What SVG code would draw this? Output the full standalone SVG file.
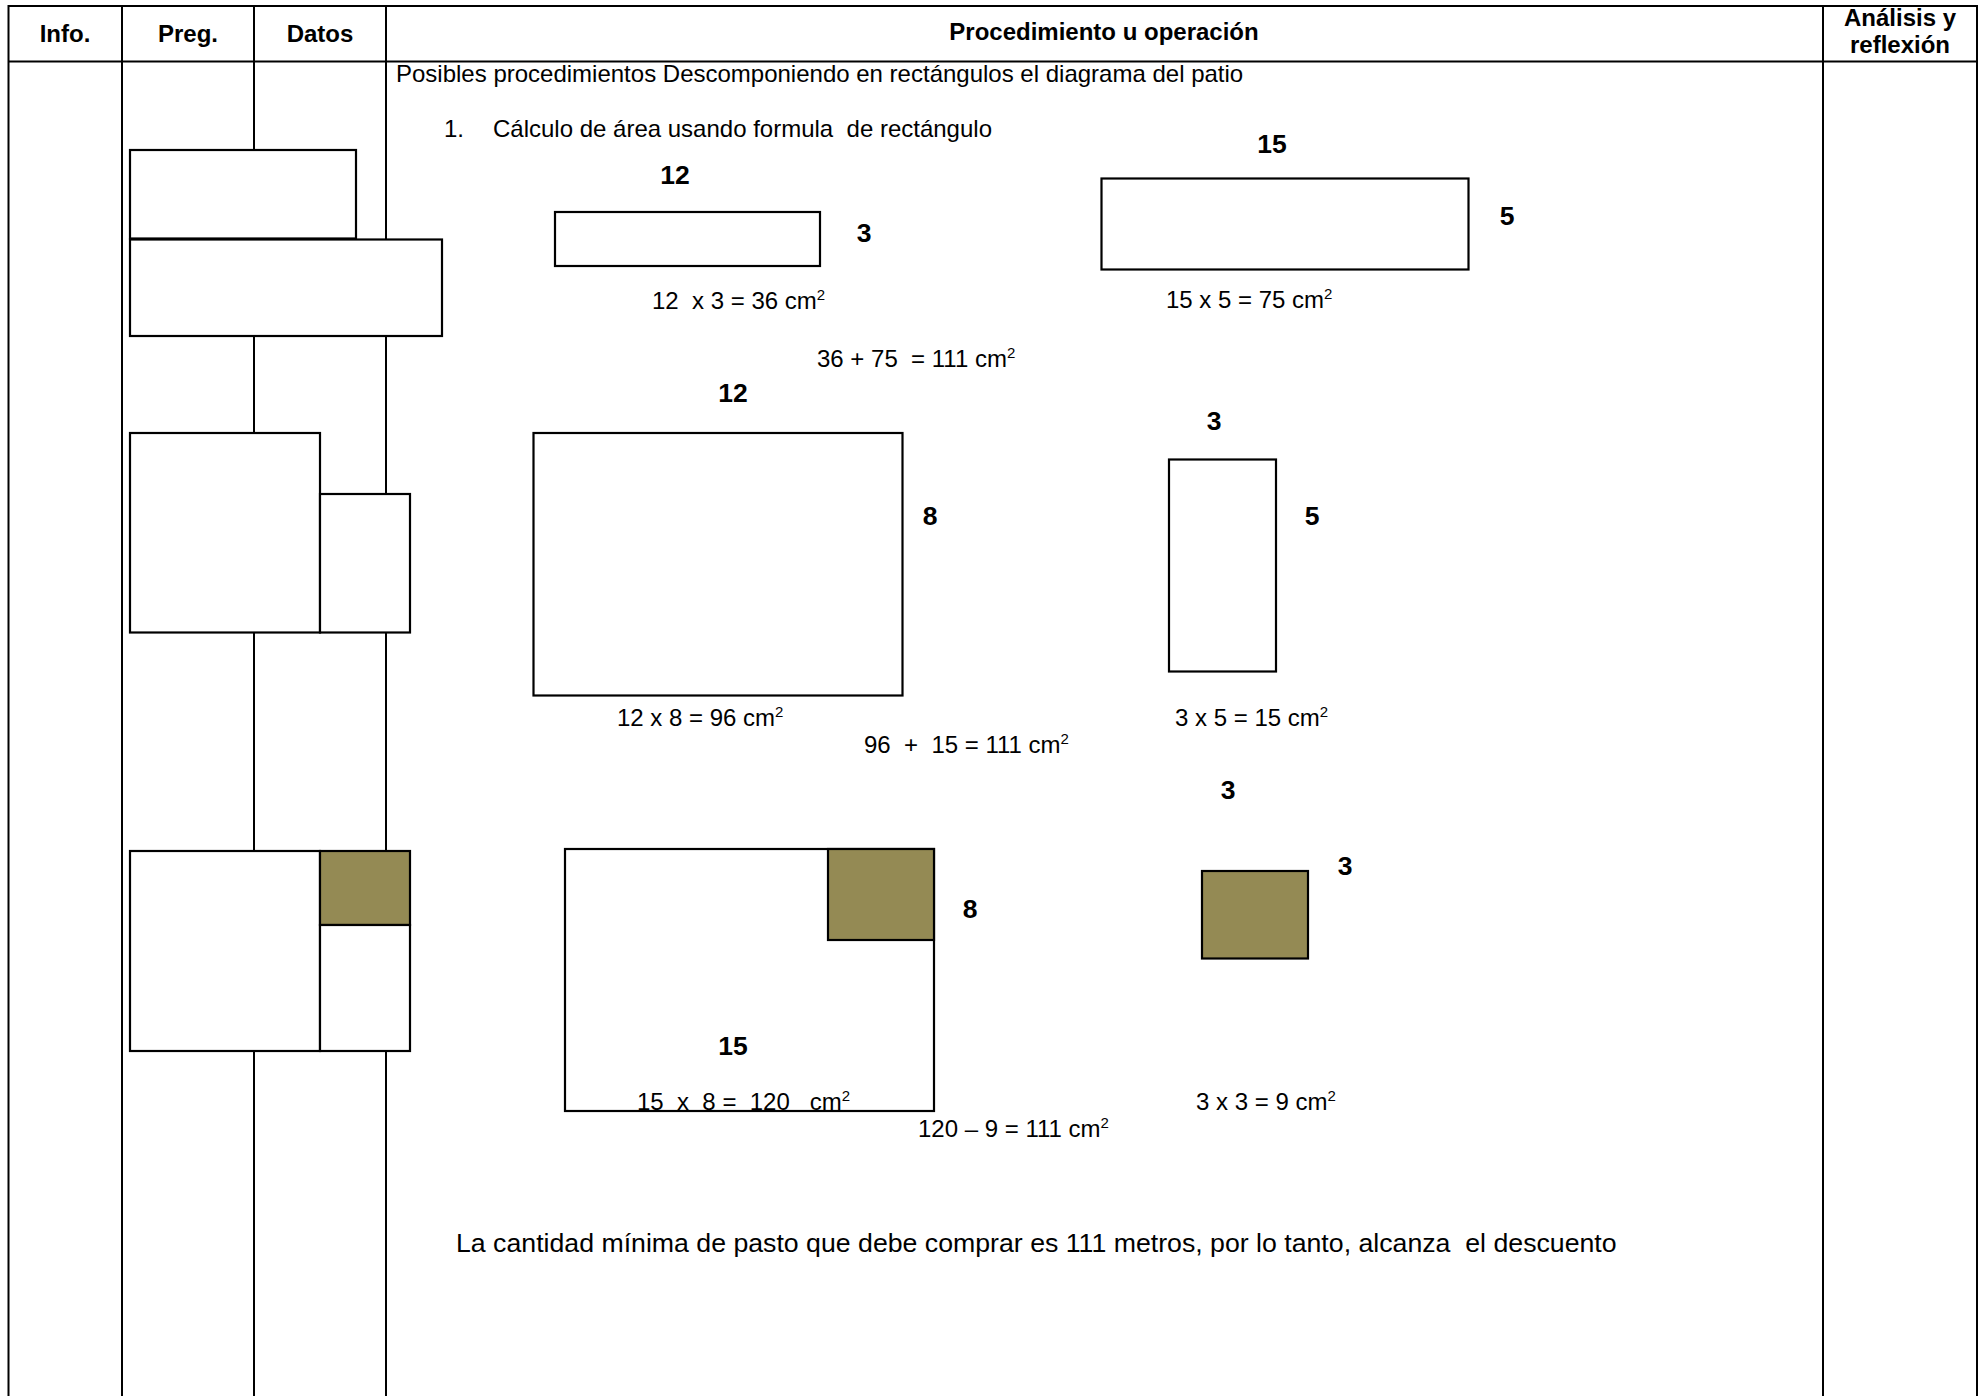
<svg xmlns="http://www.w3.org/2000/svg" width="1986" height="1396" viewBox="0 0 1986 1396" xml:space="preserve">
<style>
.grid{stroke:#000;stroke-width:2;fill:none}
.box{stroke:#000;stroke-width:2.2;fill:#fff}
.olive{stroke:#000;stroke-width:2.2;fill:#948A54}
text{font-family:"Liberation Sans",Arial,sans-serif;font-size:24px;fill:#000;white-space:pre}
.h{font-weight:bold;text-anchor:middle}
.b{font-weight:bold;text-anchor:middle;font-size:26.5px}
.big{font-size:26.7px}
.sup{font-size:15px}
</style>
<rect width="1986" height="1396" fill="#fff"/>
<g id="table">
<line class="grid" x1="8.5" y1="6" x2="1977" y2="6"/>
<line class="grid" x1="8.5" y1="61.5" x2="1977" y2="61.5"/>
<line class="grid" x1="8.5" y1="5" x2="8.5" y2="1396"/>
<line class="grid" x1="122" y1="6" x2="122" y2="1396"/>
<line class="grid" x1="254" y1="6" x2="254" y2="1396"/>
<line class="grid" x1="386" y1="6" x2="386" y2="1396"/>
<line class="grid" x1="1823" y1="6" x2="1823" y2="1396"/>
<line class="grid" x1="1977" y1="5" x2="1977" y2="1396"/>
</g>
<g id="headers">
<text class="h" x="65" y="42">Info.</text>
<text class="h" x="188" y="42">Preg.</text>
<text class="h" x="320" y="42">Datos</text>
<text class="h" x="1104" y="40">Procedimiento u operación</text>
<text class="h" x="1900" y="26">Análisis y</text>
<text class="h" x="1900" y="53">reflexión</text>
</g>
<g id="intro">
<text x="396" y="82">Posibles procedimientos Descomponiendo en rectángulos el diagrama del patio</text>
<text x="444" y="137">1.</text>
<text xml:space="preserve" x="493" y="137">Cálculo de área usando formula  de rectángulo</text>
</g>
<g id="patio1">
<rect class="box" x="130" y="150" width="226" height="88.5"/>
<rect class="box" x="130" y="239.5" width="312" height="96.5"/>
</g>
<g id="patio2">
<rect class="box" x="130" y="433" width="190" height="199.5"/>
<rect class="box" x="320" y="494" width="90" height="138.5"/>
</g>
<g id="patio3">
<rect class="box" x="130" y="851" width="190" height="200"/>
<rect class="olive" x="320" y="851" width="90" height="74"/>
<rect class="box" x="320" y="925" width="90" height="126"/>
</g>
<g id="rect-12x3">
<text class="b" x="675" y="184">12</text>
<rect class="box" x="555" y="212" width="265" height="54"/>
<text class="b" x="864" y="242">3</text>
<text xml:space="preserve" x="652" y="309">12  x 3 = 36 cm<tspan class="sup" dy="-9">2</tspan></text>
</g>
<g id="rect-15x5">
<text class="b" x="1272" y="153">15</text>
<rect class="box" x="1101.5" y="178.5" width="367" height="91"/>
<text class="b" x="1507" y="225">5</text>
<text x="1166" y="308">15 x 5 = 75 cm<tspan class="sup" dy="-9">2</tspan></text>
</g>
<g id="sum1">
<text xml:space="preserve" x="817" y="367">36 + 75  = 111 cm<tspan class="sup" dy="-9">2</tspan></text>
</g>
<g id="rect-12x8">
<text class="b" x="733" y="402">12</text>
<rect class="box" x="533.5" y="433" width="369" height="262.5"/>
<text class="b" x="930" y="525">8</text>
<text x="617" y="726">12 x 8 = 96 cm<tspan class="sup" dy="-9">2</tspan></text>
</g>
<g id="rect-3x5">
<text class="b" x="1214" y="430">3</text>
<rect class="box" x="1169" y="459.5" width="107" height="212"/>
<text class="b" x="1312" y="525">5</text>
<text x="1175" y="726">3 x 5 = 15 cm<tspan class="sup" dy="-9">2</tspan></text>
</g>
<g id="sum2">
<text xml:space="preserve" x="864" y="753">96  +  15 = 111 cm<tspan class="sup" dy="-9">2</tspan></text>
</g>
<g id="rect-15x8">
<rect class="box" x="565" y="849" width="369" height="262"/>
<rect class="olive" x="828" y="849" width="106" height="91"/>
<text class="b" x="970" y="918">8</text>
<text class="b" x="733" y="1055">15</text>
<text xml:space="preserve" x="637" y="1110">15  x  8 =  120   cm<tspan class="sup" dy="-9">2</tspan></text>
</g>
<g id="rect-3x3">
<text class="b" x="1228" y="799">3</text>
<rect class="olive" x="1202" y="871" width="106" height="87.5"/>
<text class="b" x="1345" y="875">3</text>
<text x="1196" y="1110">3 x 3 = 9 cm<tspan class="sup" dy="-9">2</tspan></text>
</g>
<g id="diff">
<text x="918" y="1137">120 – 9 = 111 cm<tspan class="sup" dy="-9">2</tspan></text>
</g>
<g id="conclusion">
<text class="big" xml:space="preserve" x="456" y="1252">La cantidad mínima de pasto que debe comprar es 111 metros, por lo tanto, alcanza  el descuento</text>
</g>
</svg>
